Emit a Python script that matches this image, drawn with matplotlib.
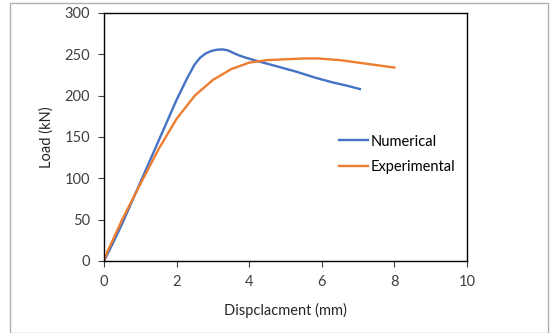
import matplotlib.pyplot as plt
from matplotlib.patches import Rectangle

plt.rcParams['font.family'] = ['Lato', 'DejaVu Sans']

# Numerical curve
num_x = [0, 0.25, 0.5, 1.0, 1.5, 2.0, 2.3, 2.5, 2.65, 2.8, 2.95, 3.1, 3.25, 3.4, 3.55, 3.7, 3.9, 4.3, 4.8, 5.3, 5.8, 6.3, 6.7, 7.05]
num_y = [0, 22, 45, 95, 145, 195, 222, 238, 246, 251, 254, 255.5, 256, 255, 252, 249, 246, 241, 235, 229, 222, 216, 212, 208]

# Experimental curve
exp_x = [0, 0.1, 0.25, 0.5, 1.0, 1.5, 2.0, 2.5, 3.0, 3.5, 4.0, 4.5, 5.0, 5.5, 5.9, 6.5, 7.0, 7.5, 8.0]
exp_y = [0, 12, 26, 50, 93, 135, 172, 200, 219, 232, 240, 243, 244, 245, 245, 243, 240, 237, 234]

fig = plt.figure(figsize=(5.55, 3.33), dpi=100)
fig.patches.append(Rectangle((10/555, 0), 538/555, 330/333, transform=fig.transFigure,
                             fill=False, edgecolor='#b0b0b0', linewidth=1))

ax = fig.add_axes([104/555, 1 - 261/333, 363/555, 248/333])
ax.plot(num_x, num_y, color='#4472C4', linewidth=1.7, label='Numerical', solid_joinstyle='round')
ax.plot(exp_x, exp_y, color='#ED7D31', linewidth=1.7, label='Experimental', solid_joinstyle='round')

ax.set_xlim(0, 10)
ax.set_ylim(0, 300)
ax.set_xticks([0, 2, 4, 6, 8, 10])
ax.set_yticks([0, 50, 100, 150, 200, 250, 300])

for s in ax.spines.values():
    s.set_color('#000000')
    s.set_linewidth(1.0)
ax.tick_params(axis='both', labelsize=10.5, colors='#404040', length=4, width=0.8, pad=6)

ax.set_xlabel('Dispclacment (mm)', fontsize=10.5, color='#262626', labelpad=10)
ax.set_ylabel('Load (kN)', fontsize=10.5, color='#262626', labelpad=8)

ax.legend(loc='center left', bbox_to_anchor=(0.63, 0.43), frameon=False, fontsize=10.5,
          handlelength=2.0, handletextpad=0.2, labelspacing=0.8, borderaxespad=0)

fig.savefig('out.png', dpi=100)
